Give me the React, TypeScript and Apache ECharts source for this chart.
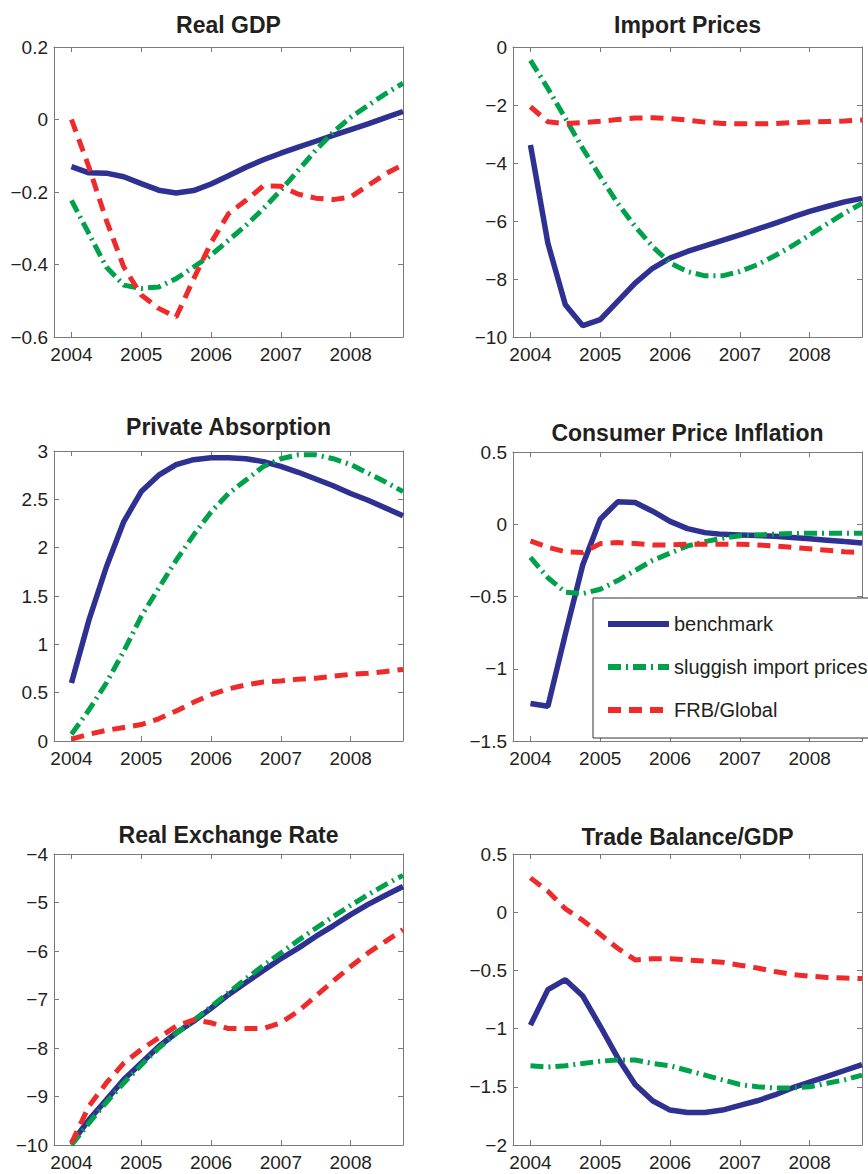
import React, { useEffect, useRef } from "react";
import * as echarts from "echarts";

const quarters = [
  2004, 2004.25, 2004.5, 2004.75, 2005, 2005.25, 2005.5, 2005.75, 2006, 2006.25,
  2006.5, 2006.75, 2007, 2007.25, 2007.5, 2007.75, 2008, 2008.25, 2008.5, 2008.75,
];
const yearTicks = [2004, 2005, 2006, 2007, 2008];
const seriesNames = ["benchmark", "sluggish import prices", "FRB/Global"];

const gdpBenchmark = [-0.13, -0.147, -0.148, -0.158, -0.177, -0.195, -0.203, -0.196, -0.178, -0.155, -0.132, -0.111, -0.093, -0.076, -0.06, -0.044, -0.028, -0.012, 0.005, 0.022];
const gdpSluggish = [-0.223, -0.315, -0.407, -0.457, -0.466, -0.462, -0.439, -0.407, -0.374, -0.333, -0.292, -0.246, -0.195, -0.14, -0.085, -0.035, 0.006, 0.039, 0.071, 0.1];
const gdpFRB = [0.0, -0.131, -0.278, -0.407, -0.484, -0.521, -0.545, -0.44, -0.34, -0.26, -0.223, -0.183, -0.184, -0.206, -0.217, -0.221, -0.214, -0.182, -0.15, -0.125];

const impBenchmark = [-3.38, -6.77, -8.89, -9.61, -9.4, -8.77, -8.14, -7.63, -7.28, -7.05, -6.86, -6.67, -6.48, -6.28, -6.08, -5.87, -5.67, -5.5, -5.34, -5.22];
const impSluggish = [-0.46, -1.43, -2.46, -3.5, -4.47, -5.39, -6.19, -6.88, -7.45, -7.74, -7.89, -7.89, -7.74, -7.51, -7.2, -6.86, -6.48, -6.1, -5.73, -5.39];
const impFRB = [-2.06, -2.58, -2.64, -2.61, -2.56, -2.5, -2.45, -2.44, -2.47, -2.52, -2.59, -2.64, -2.65, -2.65, -2.64, -2.61, -2.59, -2.57, -2.55, -2.52];

const absBenchmark = [0.6, 1.25, 1.8, 2.27, 2.58, 2.75, 2.86, 2.91, 2.93, 2.93, 2.92, 2.89, 2.84, 2.78, 2.71, 2.64, 2.56, 2.49, 2.41, 2.33];
const absSluggish = [0.07, 0.32, 0.6, 0.93, 1.29, 1.58, 1.87, 2.13, 2.37, 2.56, 2.7, 2.84, 2.92, 2.96, 2.96, 2.92, 2.86, 2.77, 2.68, 2.58];
const absFRB = [0.02, 0.07, 0.11, 0.14, 0.17, 0.23, 0.31, 0.4, 0.48, 0.54, 0.58, 0.61, 0.62, 0.64, 0.65, 0.67, 0.69, 0.7, 0.72, 0.74];

const cpiBenchmark = [-1.24, -1.26, -0.76, -0.28, 0.035, 0.155, 0.15, 0.09, 0.02, -0.03, -0.058, -0.07, -0.074, -0.078, -0.083, -0.092, -0.101, -0.11, -0.12, -0.129];
const cpiSluggish = [-0.23, -0.37, -0.47, -0.48, -0.45, -0.39, -0.32, -0.25, -0.2, -0.15, -0.12, -0.097, -0.08, -0.074, -0.069, -0.064, -0.062, -0.062, -0.062, -0.062];
const cpiFRB = [-0.115, -0.16, -0.19, -0.196, -0.134, -0.127, -0.133, -0.143, -0.143, -0.138, -0.138, -0.138, -0.138, -0.143, -0.15, -0.16, -0.17, -0.18, -0.19, -0.196];

const rerBenchmark = [-9.96, -9.48, -9.07, -8.65, -8.31, -7.97, -7.69, -7.45, -7.18, -6.9, -6.65, -6.4, -6.16, -5.94, -5.7, -5.48, -5.25, -5.04, -4.85, -4.67];
const rerSluggish = [-10.0, -9.55, -9.12, -8.72, -8.35, -8.0, -7.7, -7.43, -7.15, -6.86, -6.57, -6.3, -6.04, -5.78, -5.53, -5.29, -5.06, -4.84, -4.63, -4.44];
const rerFRB = [-9.96, -9.2, -8.72, -8.31, -8.03, -7.79, -7.55, -7.42, -7.48, -7.6, -7.6, -7.6, -7.48, -7.24, -6.93, -6.62, -6.32, -6.04, -5.8, -5.56];

const tbBenchmark = [-0.97, -0.665, -0.58, -0.72, -0.98, -1.25, -1.48, -1.62, -1.7, -1.72, -1.72, -1.7, -1.66, -1.62, -1.57, -1.51, -1.46, -1.41, -1.36, -1.31];
const tbSluggish = [-1.32, -1.33, -1.32, -1.3, -1.28, -1.27, -1.27, -1.3, -1.32, -1.36, -1.4, -1.44, -1.48, -1.5, -1.51, -1.51, -1.5, -1.47, -1.44, -1.4];
const tbFRB = [0.295, 0.18, 0.03, -0.07, -0.19, -0.31, -0.41, -0.4, -0.4, -0.41, -0.42, -0.43, -0.455, -0.48, -0.51, -0.535, -0.55, -0.56, -0.565, -0.57];

const panelTitles = ["Real GDP", "Import Prices", "Private Absorption", "Consumer Price Inflation", "Real Exchange Rate", "Trade Balance/GDP"];
const panelY = [
  { min: -0.6, max: 0.2, interval: 0.2 },
  { min: -10, max: 0, interval: 2 },
  { min: 0, max: 3, interval: 0.5 },
  { min: -1.5, max: 0.5, interval: 0.5 },
  { min: -10, max: -4, interval: 1 },
  { min: -2, max: 0.5, interval: 0.5 },
];
const panelData = [
  [gdpBenchmark, gdpSluggish, gdpFRB],
  [impBenchmark, impSluggish, impFRB],
  [absBenchmark, absSluggish, absFRB],
  [cpiBenchmark, cpiSluggish, cpiFRB],
  [rerBenchmark, rerSluggish, rerFRB],
  [tbBenchmark, tbSluggish, tbFRB],
];

// layout
const grids = [
  { left: 54, top: 47, width: 349, height: 290 },
  { left: 513, top: 47, width: 349, height: 290 },
  { left: 54, top: 451, width: 349, height: 290 },
  { left: 513, top: 452, width: 349, height: 289 },
  { left: 54, top: 854, width: 349, height: 291 },
  { left: 513, top: 854, width: 349, height: 291 },
];
const titleY = [25, 25, 427, 433, 835, 837];

const FONT = "'Liberation Sans', Arial, Helvetica, sans-serif";
const TEXT = "#231F20";
const AXIS = "#7a7a7a";
const COLORS = ["#2E3192", "#00A14B", "#EE2A2A"];
const LINE_TYPES: any[] = ["solid", [13, 5, 2, 5], [13, 8]];
const WIDTHS = [5.5, 5, 5];

const fmt = (v: number) => {
  const r = Math.round(v * 1000) / 1000;
  return String(r).replace("-", "\u2212");
};

export default function App() {
  const ref = useRef<HTMLDivElement>(null);
  useEffect(() => {
    if (!ref.current) return;
    const chart = echarts.init(ref.current, undefined, { renderer: "svg" });
    const xAxis: any[] = [];
    const yAxis: any[] = [];
    const series: any[] = [];
    const graphic: any[] = [];
    grids.forEach((g, i) => {
      const base = {
        type: "value",
        gridIndex: i,
        min: 2003.75,
        max: 2008.75,
        splitLine: { show: false },
        axisLine: { show: true, onZero: false, lineStyle: { color: AXIS, width: 1 } },
      };
      xAxis.push({
        ...base,
        position: "bottom",
        axisTick: { show: true, inside: true, length: 5, customValues: yearTicks, lineStyle: { color: AXIS } },
        axisLabel: {
          show: true,
          customValues: yearTicks,
          formatter: (v: number) => String(v),
          color: TEXT,
          fontSize: 19,
          fontFamily: FONT,
          margin: 8,
        },
      });
      xAxis.push({
        ...base,
        position: "top",
        axisTick: { show: true, inside: true, length: 5, customValues: yearTicks, lineStyle: { color: AXIS } },
        axisLabel: { show: false },
      });
      const yb = {
        type: "value",
        gridIndex: i,
        min: panelY[i].min,
        max: panelY[i].max,
        interval: panelY[i].interval,
        splitLine: { show: false },
        axisLine: { show: true, onZero: false, lineStyle: { color: AXIS, width: 1 } },
        axisTick: { show: true, inside: true, length: 5, lineStyle: { color: AXIS } },
      };
      yAxis.push({
        ...yb,
        position: "left",
        axisLabel: { show: true, formatter: fmt, color: TEXT, fontSize: 19, fontFamily: FONT, margin: 6 },
      });
      yAxis.push({ ...yb, position: "right", axisLabel: { show: false } });

      panelData[i].forEach((vals, k) => {
        series.push({
          type: "line",
          name: seriesNames[k],
          xAxisIndex: i * 2,
          yAxisIndex: i * 2,
          data: quarters.map((q, j) => [q, vals[j]]),
          symbol: "none",
          smooth: false,
          lineStyle: { color: COLORS[k], width: WIDTHS[k], type: LINE_TYPES[k] },
          itemStyle: { color: COLORS[k] },
          clip: true,
          z: 2 + k,
        });
      });

      graphic.push({
        type: "text",
        x: g.left + g.width / 2,
        y: titleY[i],
        style: {
          text: panelTitles[i],
          textAlign: "center",
          textVerticalAlign: "middle",
          font: `bold 23px ${FONT}`,
          fill: TEXT,
        },
      });
    });

    chart.setOption({
      animation: false,
      backgroundColor: "#ffffff",
      grid: grids.map((g) => ({ ...g, containLabel: false })),
      xAxis,
      yAxis,
      series,
      graphic,
      legend: {
        data: seriesNames,
        orient: "vertical",
        left: 593,
        top: 598,
        itemWidth: 61,
        itemHeight: 14,
        itemGap: 23,
        padding: [16, 30, 18, 12],
        backgroundColor: "#ffffff",
        borderColor: "#333333",
        borderWidth: 1,
        selectedMode: false,
        itemStyle: { opacity: 0 },
        lineStyle: { width: 6 },
        textStyle: { color: TEXT, fontSize: 20, fontFamily: FONT },
        z: 10,
      },
    });
    return () => chart.dispose();
  }, []);
  return (
    <div
      ref={ref}
      style={{ position: "fixed", left: 0, top: 0, width: 868, height: 1174, background: "#fff" }}
    />
  );
}
